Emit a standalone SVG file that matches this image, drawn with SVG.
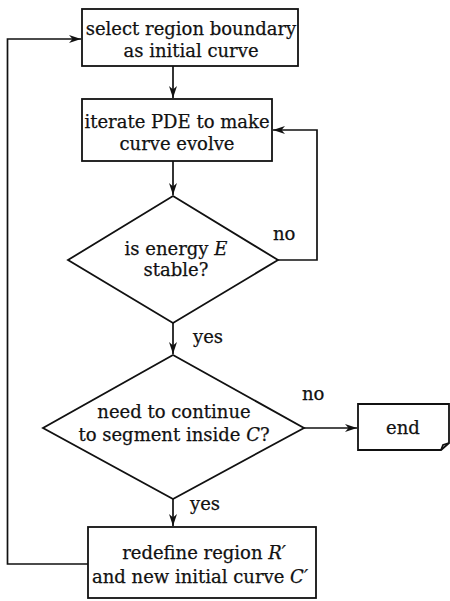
<svg xmlns="http://www.w3.org/2000/svg" width="450" height="601" viewBox="0 0 450 601">
<defs>
<marker id="arr" markerWidth="13" markerHeight="9" refX="12" refY="4.5" orient="auto" markerUnits="userSpaceOnUse">
<path d="M0,0.5 L12,4.5 L0,8.5 L3.5,4.5 Z" fill="#111"/>
</marker>
<style>
.shape{fill:#fff;stroke:#111;stroke-width:1.8}
.line{fill:none;stroke:#111;stroke-width:1.7}
text{font-family:"DejaVu Serif","Liberation Serif",serif;font-size:18px;fill:#111;stroke:#111;stroke-width:0.25}
.c{text-anchor:middle}
.i{font-style:italic}
</style>
</defs>
<rect width="450" height="601" fill="#fff"/>
<g id="connectors">
<path class="line" d="M173,66 V98" marker-end="url(#arr)"/>
<path class="line" d="M173,161 V195" marker-end="url(#arr)"/>
<path class="line" d="M278,260 H317 V130 H273" marker-end="url(#arr)"/>
<path class="line" d="M173,323 V354" marker-end="url(#arr)"/>
<path class="line" d="M304,428 H357" marker-end="url(#arr)"/>
<path class="line" d="M173,499 V526" marker-end="url(#arr)"/>
<path class="line" d="M88,564 H7.5 V39 H81" marker-end="url(#arr)"/>
<text x="273" y="240">no</text>
<text x="193" y="343">yes</text>
<text x="302" y="400">no</text>
<text x="190" y="510">yes</text>
</g>
<g id="n1">
<rect class="shape" x="82" y="9" width="216" height="57"/>
<text class="c" x="191" y="35">select region boundary</text>
<text class="c" x="191" y="57">as initial curve</text>
</g>
<g id="n2">
<rect class="shape" x="82" y="99" width="190" height="62"/>
<text class="c" x="177" y="128">iterate PDE to make</text>
<text class="c" x="177" y="150">curve evolve</text>
</g>
<g id="n3">
<polygon class="shape" points="173,196 278,260 173,323 68,260"/>
<text class="c" x="176" y="255">is energy <tspan class="i">E</tspan></text>
<text class="c" x="176" y="276">stable?</text>
</g>
<g id="n4">
<polygon class="shape" points="173,355 304,428 173,499 43,428"/>
<text class="c" x="174" y="418">need to continue</text>
<text class="c" x="174" y="441">to segment inside <tspan class="i">C</tspan>?</text>
</g>
<g id="n5">
<path class="shape" d="M358,404 H449 V443 L441,450 H358 Z"/>
<path class="line" d="M441,450 L443,445 L449,443"/>
<text class="c" x="403" y="434">end</text>
</g>
<g id="n6">
<rect class="shape" x="88" y="527" width="228" height="71"/>
<text class="c" x="204" y="559">redefine region <tspan class="i">R′</tspan></text>
<text class="c" x="200" y="583">and new initial curve <tspan class="i">C′</tspan></text>
</g>
</svg>
